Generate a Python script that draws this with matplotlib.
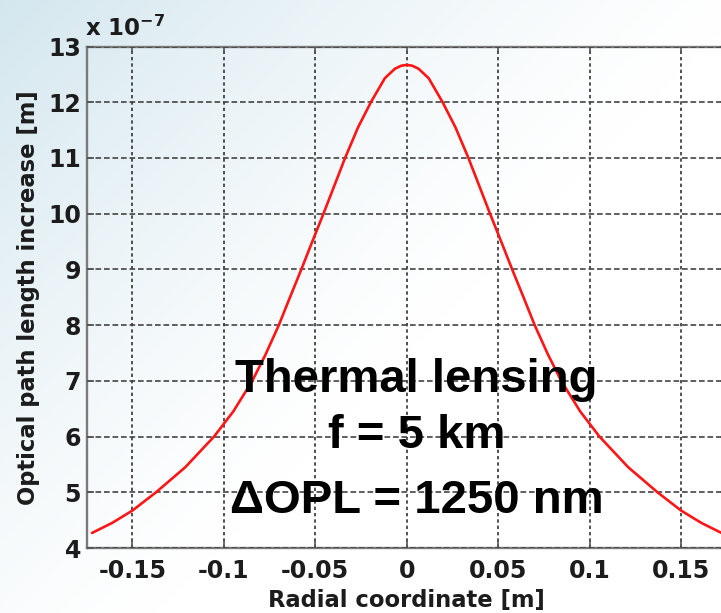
import numpy as np
import matplotlib
matplotlib.use("Agg")
import matplotlib.pyplot as plt

# ---- data ----
radial_m = [-0.172, -0.161, -0.150, -0.137, -0.121, -0.1053, -0.0948,
            -0.0844, -0.0772, -0.0699, -0.0638, -0.0576, -0.0516, -0.0455,
            -0.0396, -0.0337, -0.0266, -0.0196, -0.012, -0.0065, -0.003,
            0.0,
            0.003, 0.0065, 0.012, 0.0196, 0.0266, 0.0337, 0.0396, 0.0455,
            0.0516, 0.0576, 0.0638, 0.0699, 0.0772, 0.0844, 0.0948, 0.1053,
            0.121, 0.137, 0.150, 0.161, 0.172]
opl_1e7 = [4.27, 4.45, 4.67, 5.00, 5.45, 6.00, 6.45,
           7.00, 7.47, 8.00, 8.50, 9.00, 9.50, 10.00,
           10.50, 11.00, 11.55, 12.00, 12.43, 12.60, 12.655,
           12.67,
           12.655, 12.60, 12.43, 12.00, 11.55, 11.00, 10.50, 10.00,
           9.50, 9.00, 8.50, 8.00, 7.47, 7.00, 6.45, 6.00,
           5.45, 5.00, 4.67, 4.45, 4.27]
xticks = [-0.15, -0.1, -0.05, 0, 0.05, 0.1, 0.15]
xtick_labels = ["-0.15", "-0.1", "-0.05", "0", "0.05", "0.1", "0.15"]
yticks = [4, 5, 6, 7, 8, 9, 10, 11, 12, 13]
ytick_labels = [str(v) for v in yticks]
annot_lines = ["Thermal lensing", "f = 5 km", "\u0394OPL = 1250 nm"]

W, H = 721, 613
fig = plt.figure(figsize=(W / 100, H / 100), dpi=100)

# background gradient (light blue towards the upper-left corner)
bg = fig.add_axes([0, 0, 1, 1], zorder=-10)
bg.axis("off")
xx = np.linspace(0, 1, W)[None, :]
yy = np.linspace(0, 1, H)[:, None]
t = np.clip(1 - (1.15 * xx + 0.95 * yy) / 1.2, 0, 1) ** 1.3
c0 = np.array([0.83, 0.905, 0.935])
img = 1 - t[..., None] * (1 - c0)
bg.imshow(img, extent=[0, 1, 0, 1], aspect="auto", origin="upper")
bg.set_xlim(0, 1)
bg.set_ylim(0, 1)

# main axes (right edge extends a bit beyond the picture)
ax = fig.add_axes([86.5 / W, 65 / H, 640.5 / W, 501.5 / H])
ax.set_facecolor("none")
ax.plot(radial_m, opl_1e7, color="#ff1515", lw=1.9, zorder=3,
        solid_joinstyle="round", solid_capstyle="round")
ax.set_xlim(-0.175, 0.175)
ax.set_ylim(4, 13)
ax.set_xticks(xticks)
ax.set_xticklabels(xtick_labels)
ax.set_yticks(yticks)
ax.set_yticklabels(ytick_labels)

ax.xaxis.grid(True, color="#333333", linestyle=(0, (2, 1.8)), linewidth=1.2)
ax.yaxis.grid(True, color="#444444", linestyle=(0, (3.4, 1.7)), linewidth=1.2)
ax.set_axisbelow(False)

for s in ax.spines.values():
    s.set_color("#7a7a7a")
    s.set_linewidth(1.7)

ax.tick_params(axis="both", direction="in", length=5, width=1.2,
               color="#555555", labelcolor="#1c1c1c", top=True, right=True)
ax.tick_params(axis="x", pad=8)
ax.tick_params(axis="y", pad=4)
for lab in ax.get_xticklabels() + ax.get_yticklabels():
    lab.set_fontfamily("DejaVu Sans")
    lab.set_fontweight("bold")
    lab.set_fontsize(17)

label_font = dict(family="DejaVu Sans", weight="bold", size=16.3)
ax.set_xlabel("Radial coordinate [m]", fontdict=label_font, color="#1c1c1c")
ax.set_ylabel("Optical path length increase [m]", fontdict=label_font,
              color="#1c1c1c")
ax.xaxis.set_label_coords(0.5, -0.082)
ax.yaxis.set_label_coords(-0.0726, 0.5)

# exponent label
fig.text(85 / W, 1 - 36 / H, r"x 10$^{\mathbf{-7}}$", ha="left", va="baseline",
         family="DejaVu Sans", weight="bold", size=16.5, color="#1c1c1c")

# annotation
baselines = [391.7, 448, 512.7]
for line, b in zip(annot_lines, baselines):
    fig.text(416.5 / W, 1 - b / H, line, ha="center", va="baseline",
             family="Liberation Sans", weight="bold", size=34, color="black",
             zorder=5)

fig.savefig("out.png", dpi=100)
